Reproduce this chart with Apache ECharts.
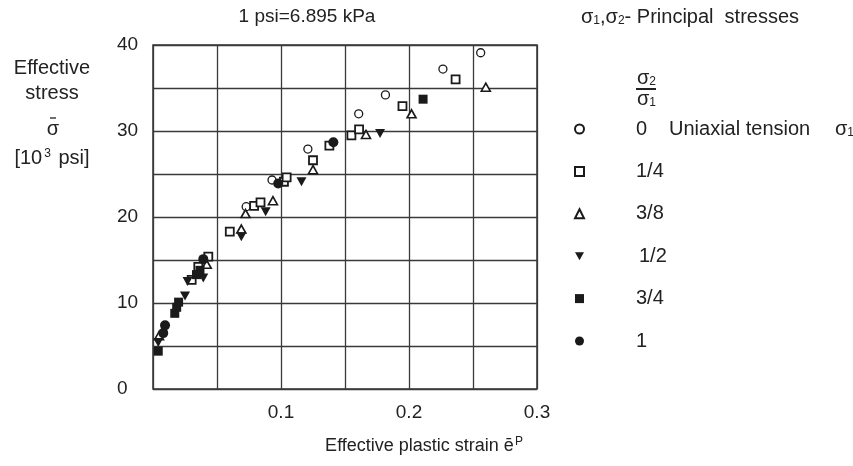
<!DOCTYPE html>
<html><head><meta charset="utf-8">
<script src="https://cdn.jsdelivr.net/npm/echarts@6/dist/echarts.min.js"></script>
<style>html,body{margin:0;padding:0;background:#fff}#c{width:853px;height:466px}</style>
</head><body><div id="c"></div>
<script>
// Legend names (sigma2/sigma1 ratio)
const ratioNames = ['0', '1/4', '3/8', '1/2', '3/4', '1'];
const xTicks = [0.1, 0.2, 0.3];
const yTicks = [0, 10, 20, 30, 40];

// [effective plastic strain, effective stress (10^3 psi)]
const ratio0 = [[0.0728,21.2],[0.093,24.3],[0.121,27.9],[0.1607,32.0],[0.1816,34.2],[0.2265,37.2],[0.256,39.1]];
const ratio14 = [[0.0302,12.7],[0.0354,14.2],[0.0432,15.4],[0.060,18.3],[0.079,21.3],[0.084,21.7],[0.1023,24.1],[0.1044,24.6],[0.125,26.6],[0.1378,28.3],[0.155,29.5],[0.161,30.2],[0.1949,32.9],[0.2364,36.0]];
const ratio38 = [[0.0047,6.2],[0.042,14.5],[0.069,18.6],[0.0723,20.4],[0.0937,21.9],[0.125,25.5],[0.1664,29.6],[0.202,32.0],[0.260,35.1]];
const ratio12 = [[0.0041,5.4],[0.025,10.8],[0.027,12.5],[0.0393,12.9],[0.069,17.7],[0.088,20.6],[0.116,24.1],[0.1774,29.7]];
const ratio34 = [[0.0041,4.4],[0.017,8.8],[0.0185,9.5],[0.02,10.1],[0.034,13.3],[0.0367,13.8],[0.211,33.7]];
const ratio1 = [[0.008,6.5],[0.0094,7.4],[0.0393,15.1],[0.0978,23.9],[0.1409,28.7]];

const FONT = '"Liberation Sans", Arial, sans-serif';
const TXT = '#222';
const FS = 20;   // labels / legend
const FT = 19;   // tick labels

const chart = echarts.init(document.getElementById('c'), null, {renderer: 'canvas'});

const openStyle = w => ({color: '#fff', borderColor: '#1a1a1a', borderWidth: w, opacity: 1});
const filledStyle = {color: '#1a1a1a', opacity: 1};
const rn = (fs) => ({fontSize: fs, fontFamily: FONT, fill: TXT, lineHeight: 22});
const rs = (pad) => ({fontSize: 12, fontFamily: FONT, fill: TXT, lineHeight: 22, padding: pad});

chart.setOption({
  animation: false,
  backgroundColor: '#fff',
  grid: {left: 153, top: 45, width: 384, height: 344, show: true, borderColor: '#333', borderWidth: 1.5, backgroundColor: 'transparent'},
  xAxis: {
    type: 'value', min: 0, max: 0.3, interval: 0.05,
    axisLine: {show: false}, axisTick: {show: false},
    splitLine: {show: true, lineStyle: {color: '#3a3a3a', width: 1.3}},
    axisLabel: {
      margin: 14, fontSize: FT, color: TXT, fontFamily: FONT,
      formatter: v => xTicks.some(t => Math.abs(t - v) < 1e-9) ? v.toFixed(1) : ''
    }
  },
  yAxis: {
    type: 'value', min: 0, max: 40, interval: 5,
    axisLine: {show: false}, axisTick: {show: false},
    splitLine: {show: true, lineStyle: {color: '#3a3a3a', width: 1.3}},
    axisLabel: {
      align: 'left', margin: 36, fontSize: FT, color: TXT, fontFamily: FONT,
      formatter: v => yTicks.some(t => Math.abs(t - v) < 1e-9) ? String(Math.round(v)) : ''
    }
  },
  legend: {
    orient: 'vertical', left: 574, top: 119, padding: 0,
    itemWidth: 9, itemHeight: 9, itemGap: 22.4,
    data: ratioNames,
    textStyle: {
      fontSize: FS, color: TXT, fontFamily: FONT, lineHeight: 18, padding: [0, 0, 0, 47],
      rich: {
        a: {fontSize: FS, color: TXT, fontFamily: FONT, width: 33, lineHeight: 18},
        b: {fontSize: FS, color: TXT, fontFamily: FONT, width: 166, lineHeight: 18},
        c: {fontSize: FS, color: TXT, fontFamily: FONT, lineHeight: 18},
        d: {fontSize: 12, color: TXT, fontFamily: FONT, lineHeight: 18, padding: [8, 0, 0, 0]},
        h: {fontSize: FS, color: TXT, fontFamily: FONT, lineHeight: 18, padding: [0, 0, 0, 3]}
      }
    },
    formatter: name => name === '0' ? '{a|0}{b|Uniaxial tension}{c|σ}{d|1}' : (name === '1/2' ? '{h|1/2}' : name)
  },
  series: [
    {name: '0', type: 'scatter', data: ratio0, symbol: 'circle', symbolSize: 8, itemStyle: openStyle(1.3)},
    {name: '1/4', type: 'scatter', data: ratio14, symbol: 'rect', symbolSize: 8, itemStyle: openStyle(1.8)},
    {name: '3/8', type: 'scatter', data: ratio38, symbol: 'triangle', symbolSize: [9, 8], itemStyle: openStyle(1.6)},
    {name: '1/2', type: 'scatter', data: ratio12, symbol: 'path://M0,0L10,0L5,9Z', symbolSize: [10, 9], itemStyle: filledStyle},
    {name: '3/4', type: 'scatter', data: ratio34, symbol: 'rect', symbolSize: 9, itemStyle: filledStyle},
    {name: '1', type: 'scatter', data: ratio1, symbol: 'circle', symbolSize: 10, itemStyle: filledStyle}
  ],
  graphic: [
    {type: 'text', x: 307, y: 17, style: {text: '1 psi=6.895 kPa', font: FT + 'px ' + FONT, fill: TXT, align: 'center', verticalAlign: 'middle'}},
    {type: 'text', x: 581, y: 17, style: {
      text: '{n|σ}{s|1}{n|,σ}{s|2}{n|- Principal  stresses}', verticalAlign: 'middle',
      rich: {n: rn(FS), s: rs([8, 0, 0, 0])}
    }},
    // fraction sigma2 / sigma1
    {type: 'text', x: 637, y: 78, style: {
      text: '{n|σ}{s|2}', verticalAlign: 'middle', rich: {n: rn(FS), s: rs([8, 0, 0, 0])}
    }},
    {type: 'line', shape: {x1: 636, y1: 89, x2: 656, y2: 89}, style: {stroke: '#222', lineWidth: 2}},
    {type: 'text', x: 637, y: 99, style: {
      text: '{n|σ}{s|1}', verticalAlign: 'middle', rich: {n: rn(FS), s: rs([8, 0, 0, 0])}
    }},
    // left axis label
    {type: 'text', x: 52, y: 68, style: {text: 'Effective', font: FS + 'px ' + FONT, fill: TXT, align: 'center', verticalAlign: 'middle'}},
    {type: 'text', x: 52, y: 93, style: {text: 'stress', font: FS + 'px ' + FONT, fill: TXT, align: 'center', verticalAlign: 'middle'}},
    {type: 'text', x: 53, y: 129, style: {text: 'σ', font: FS + 'px ' + FONT, fill: TXT, align: 'center', verticalAlign: 'middle'}},
    {type: 'line', shape: {x1: 50, y1: 118, x2: 56, y2: 118}, style: {stroke: '#222', lineWidth: 1.3}},
    {type: 'text', x: 52, y: 158, style: {
      text: '{n|[10}{p|3}{n| psi]}', align: 'center', verticalAlign: 'middle',
      rich: {n: rn(FS), p: rs([0, 2, 8, 2])}
    }},
    // x axis name
    {type: 'text', x: 424, y: 446, style: {
      text: '{n|Effective plastic strain ē}{p|P}', align: 'center', verticalAlign: 'middle',
      rich: {n: rn(18), p: rs([0, 0, 8, 1])}
    }}
  ]
});
</script>
</body></html>
